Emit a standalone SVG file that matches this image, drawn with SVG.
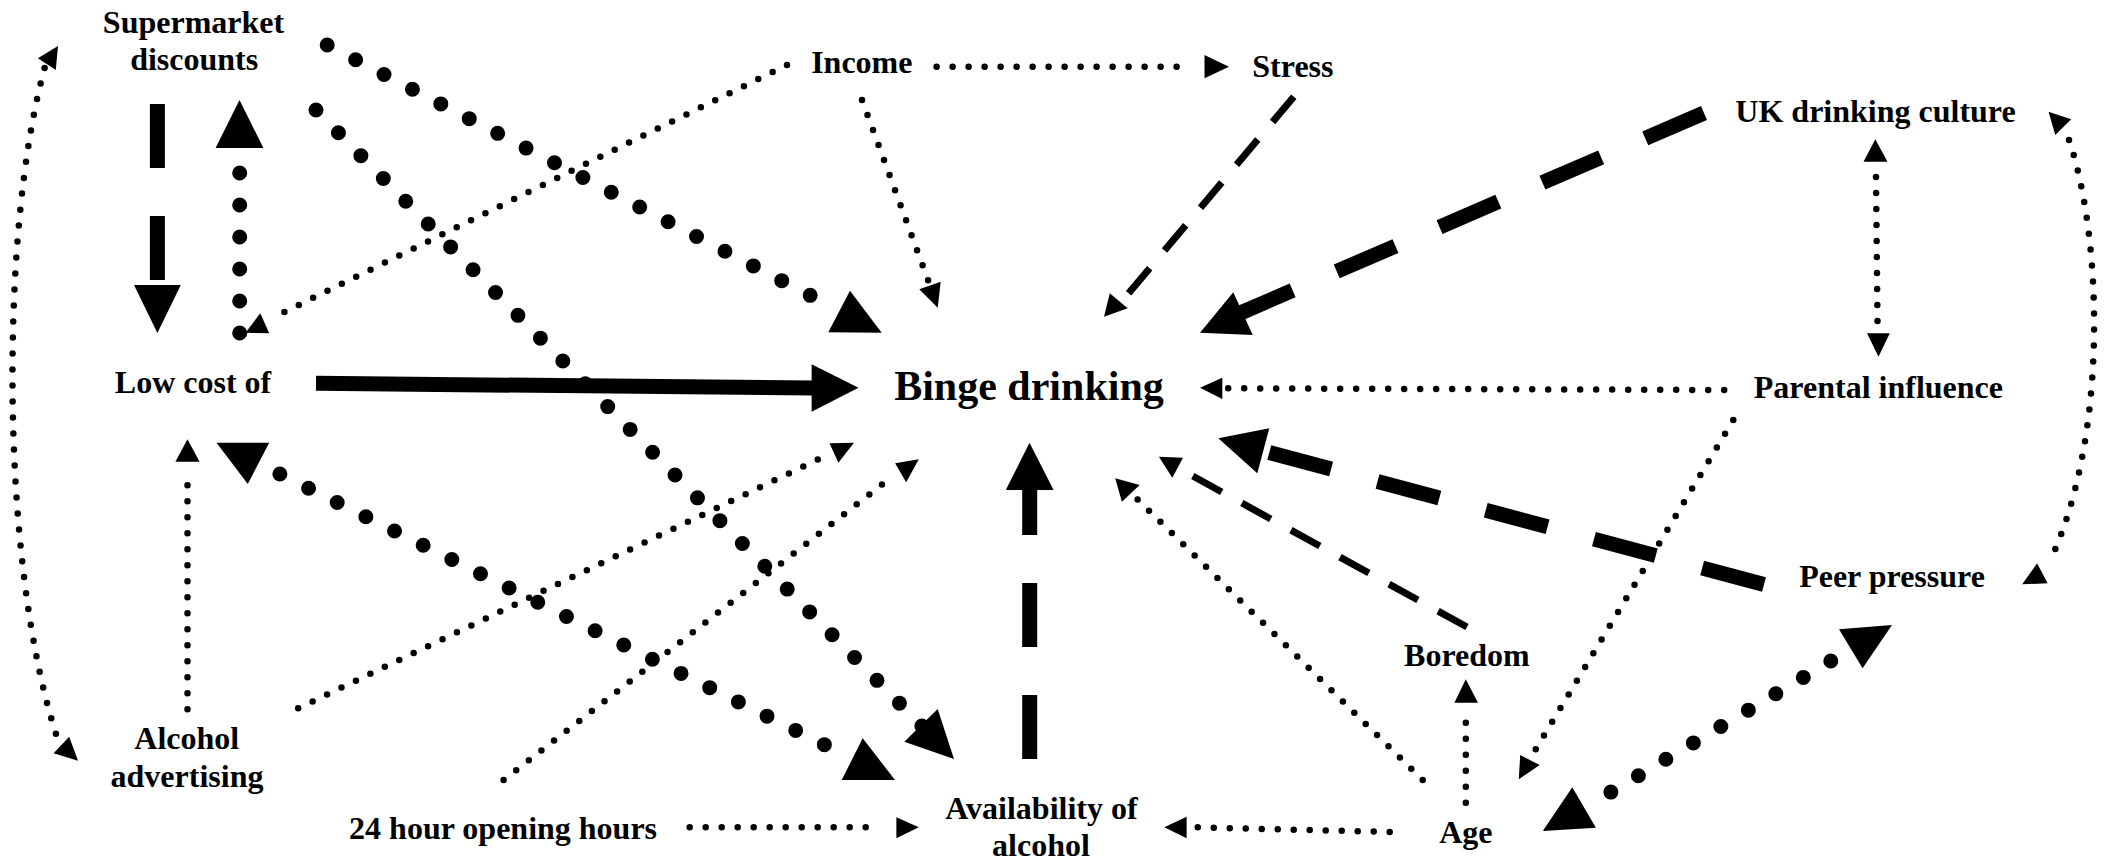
<svg xmlns="http://www.w3.org/2000/svg" width="2111" height="868" viewBox="0 0 2111 868">
<style>
  .t { font-family: "Liberation Serif", "Times New Roman", serif; font-weight: bold; font-size: 32px; fill: #000; text-anchor: middle; }
  .big { font-size: 42px; }
  .dl { fill: none; stroke: #000; stroke-width: 15; stroke-linecap: round; stroke-dasharray: 0 32; }
  .ds { fill: none; stroke: #000; stroke-width: 6.5; stroke-linecap: round; stroke-dasharray: 0 16; }
  .hl { fill: none; stroke: #000; stroke-width: 15; stroke-dasharray: 64 48; }
  .hm { fill: none; stroke: #000; stroke-width: 7; stroke-dasharray: 33 23; }
  .sl { fill: none; stroke: #000; stroke-width: 15; }
  .ah { fill: #000; stroke: none; }
</style>
<rect x="0" y="0" width="2111" height="868" fill="#fff"/>

<g id="connectors">
  <!-- Supermarket -> Low cost (thick dashed) -->
  <g id="c-super-low">
    <path class="hl" d="M157.4,104 L157.4,285"/>
    <polygon class="ah" points="134,285 180.8,285 157.4,333"/>
  </g>
  <!-- Low cost -> Supermarket (big dots) -->
  <g id="c-low-super">
    <path class="dl" d="M239.7,333 L239.7,141"/>
    <polygon class="ah" points="239.5,100 215.6,148 263.4,148"/>
  </g>
  <!-- Supermarket -> Binge (big dots) -->
  <g id="c-super-binge">
    <path class="dl" d="M327.2,45 L838.4,310"/>
    <polygon class="ah" points="850,290.7 828.3,332.3 881.7,332.7"/>
  </g>
  <!-- Supermarket -> Availability (big dots) -->
  <g id="c-super-avail">
    <path class="dl" d="M316,110 L921.9,726"/>
    <polygon class="ah" points="937.7,709 904.3,741.7 954,759"/>
  </g>
  <!-- Low cost -> Binge (solid thick) -->
  <g id="c-low-binge">
    <path class="sl" d="M316,383.3 L814,388"/>
    <polygon class="ah" points="811.6,364.3 858.5,387.7 811.6,411.7"/>
  </g>
  <!-- Low cost <-> Availability (big dots) -->
  <g id="c-low-avail">
    <path class="dl" d="M279.9,474 L851.8,758.3"/>
    <polygon class="ah" points="216.5,442.7 269.2,442.7 247.8,484"/>
    <polygon class="ah" points="862.7,738.3 841.7,780 895,780"/>
  </g>
  <!-- Income -> Low cost (small dots) -->
  <g id="c-income-low">
    <path class="ds" d="M787,65 L270.1,319"/>
    <polygon class="ah" points="260.3,313.3 245.5,332.7 269.2,333.3"/>
  </g>
  <!-- Income -> Stress -->
  <g id="c-income-stress">
    <path class="ds" d="M936.6,66.7 L1192.6,66.7"/>
    <polygon class="ah" points="1204.5,55 1229,66.7 1204.5,78.3"/>
  </g>
  <!-- Income -> Binge -->
  <g id="c-income-binge">
    <path class="ds" d="M862,100 L928.1,280.3"/>
    <polygon class="ah" points="919.3,289.3 940.7,281.7 937.7,307.7"/>
  </g>
  <!-- Stress -> Binge (medium dashed) -->
  <g id="c-stress-binge">
    <path class="hm" d="M1293.8,96.7 L1128.6,293.3"/>
    <polygon class="ah" points="1104,316.7 1109.8,293.3 1127.7,308.3"/>
  </g>
  <!-- UK drinking culture -> Binge (thick dashed) -->
  <g id="c-uk-binge">
    <path class="hl" d="M1704,113 L1238,314"/>
    <polygon class="ah" points="1200,332.7 1233.3,292.3 1252.7,335"/>
  </g>
  <!-- Parental -> Binge -->
  <g id="c-parent-binge">
    <path class="ds" d="M1724.2,390 L1228.2,388.3"/>
    <polygon class="ah" points="1200,387.7 1222.3,377.7 1222.3,399"/>
  </g>
  <!-- UK <-> Parental -->
  <g id="c-uk-parent">
    <path class="ds" d="M1876,177 L1877.5,321"/>
    <polygon class="ah" points="1875.3,139.3 1863.5,161.7 1887.5,161.7"/>
    <polygon class="ah" points="1878.5,356.7 1867,333.3 1889.8,333.3"/>
  </g>
  <!-- UK <-> Peer pressure (curve) -->
  <g id="c-uk-peer">
    <path class="ds" d="M2069,140 C2103,240 2108,440 2049,563"/>
    <polygon class="ah" points="2048.5,111.7 2071.2,119.3 2055.3,135"/>
    <polygon class="ah" points="2022.2,584.3 2037.1,563.3 2047.6,583.3"/>
  </g>
  <!-- Supermarket <-> Alcohol advertising (curve) -->
  <g id="c-super-advert">
    <path class="ds" d="M44.6,68 C0,230 0,560 56,734"/>
    <polygon class="ah" points="58,46 37.9,58.3 55.8,70"/>
    <polygon class="ah" points="69.2,736.7 53.6,753.3 78.1,760.7"/>
  </g>
  <!-- Alcohol advertising -> Low cost -->
  <g id="c-advert-low">
    <path class="ds" d="M187.5,709.3 L187.5,469.3"/>
    <polygon class="ah" points="187.5,439.3 175.4,461.7 199.6,461.7"/>
  </g>
  <!-- Alcohol advertising -> Binge -->
  <g id="c-advert-binge">
    <path class="ds" d="M298.2,708.3 L817.8,459.6"/>
    <polygon class="ah" points="829.5,443.3 854,442.7 838.4,462.7"/>
  </g>
  <!-- 24 hour -> Binge -->
  <g id="c-24h-binge">
    <path class="ds" d="M503.6,780 L894.5,474.8"/>
    <polygon class="ah" points="895.1,463.3 918.8,459.3 906.2,482.3"/>
  </g>
  <!-- 24 hour -> Availability -->
  <g id="c-24h-avail">
    <path class="ds" d="M689.7,827.3 L881.7,827.3"/>
    <polygon class="ah" points="896.4,817.3 918.8,827.3 896.4,838.3"/>
  </g>
  <!-- Availability -> Binge (thick dashed) -->
  <g id="c-avail-binge">
    <path class="hl" d="M1029.7,759 L1029.7,488"/>
    <polygon class="ah" points="1029.5,442.7 1005.8,490 1053.6,490"/>
  </g>
  <!-- Age -> Availability -->
  <g id="c-age-avail">
    <path class="ds" d="M1389.7,832 L1195.5,827.3"/>
    <polygon class="ah" points="1164.3,827.3 1186.6,816.7 1186.6,838.3"/>
  </g>
  <!-- Age -> Binge -->
  <g id="c-age-binge">
    <path class="ds" d="M1422.7,780 L1137.5,499.3"/>
    <polygon class="ah" points="1115.2,478.3 1139.7,485 1121.9,501.7"/>
  </g>
  <!-- Boredom -> Binge (medium dashed) -->
  <g id="c-boredom-binge">
    <path class="hm" d="M1467,627 L1180,469"/>
    <polygon class="ah" points="1158.9,456.7 1183,457.7 1172.3,477.7"/>
  </g>
  <!-- Peer pressure -> Binge (thick dashed) -->
  <g id="c-peer-binge">
    <path class="hl" d="M1764,584.5 L1268.9,452.4"/>
    <polygon class="ah" points="1218.3,438.3 1269.3,428.3 1257.3,473.3"/>
  </g>
  <!-- Parental -> Age -->
  <g id="c-parent-age">
    <path class="ds" d="M1733.3,420 L1535.6,749.5"/>
    <polygon class="ah" points="1520.2,755 1539.7,765 1518.8,779.3"/>
  </g>
  <!-- Age -> Boredom -->
  <g id="c-age-boredom">
    <path class="ds" d="M1465.8,802.7 L1465.8,706.7"/>
    <polygon class="ah" points="1465.8,679.3 1454.4,702.7 1478,702.7"/>
  </g>
  <!-- Age <-> Peer pressure (big dots) -->
  <g id="c-age-peer">
    <path class="dl" d="M1830.8,661 L1583.7,808.3"/>
    <polygon class="ah" points="1839,629.3 1892,625 1862.6,668.3"/>
    <polygon class="ah" points="1572.3,787.3 1542.8,831 1595.9,827.7"/>
  </g>
</g>

<g id="n-supermarket"><text class="t" x="193.5" y="33.3">Supermarket</text><text class="t" x="194.2" y="70">discounts</text></g>
<g id="n-lowcost"><text class="t" x="193" y="393.3">Low cost of</text></g>
<g id="n-income"><text class="t" x="861.8" y="73.3">Income</text></g>
<g id="n-stress"><text class="t" x="1292.9" y="76.7">Stress</text></g>
<g id="n-binge"><text class="t big" x="1029" y="400">Binge drinking</text></g>
<g id="n-uk"><text class="t" x="1875.5" y="121.7">UK drinking culture</text></g>
<g id="n-parental"><text class="t" x="1878.4" y="398.3">Parental influence</text></g>
<g id="n-advert"><text class="t" x="186.8" y="749.3">Alcohol</text><text class="t" x="187" y="787">advertising</text></g>
<g id="n-24h"><text class="t" x="503.1" y="839.3">24 hour opening hours</text></g>
<g id="n-avail"><text class="t" x="1041.5" y="819.3">Availability of</text><text class="t" x="1041" y="856">alcohol</text></g>
<g id="n-peer"><text class="t" x="1892" y="586.7">Peer pressure</text></g>
<g id="n-boredom"><text class="t" x="1466.9" y="666">Boredom</text></g>
<g id="n-age"><text class="t" x="1465.8" y="842.7">Age</text></g>
</svg>
